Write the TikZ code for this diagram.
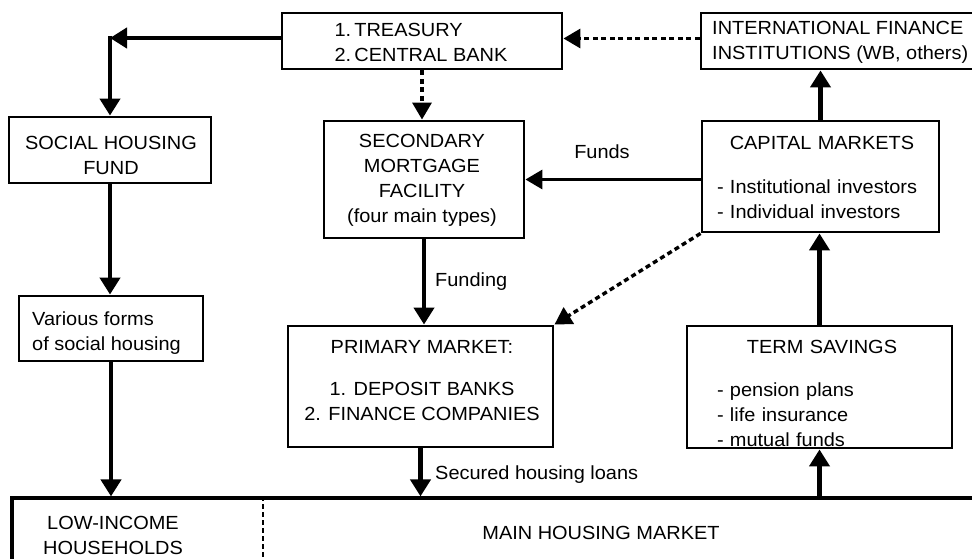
\documentclass[tikz,border=0pt]{standalone}
\usepackage{fontspec}
\setmainfont{Liberation Sans}[FakeStretch=1.05]
\usetikzlibrary{arrows.meta}
\begin{document}
\begin{tikzpicture}[x=1pt,y=-1pt,
  box/.style={draw, line width=2.9pt, rectangle, inner sep=0pt},
  txt/.style={inner sep=0pt, font=\fontsize{19}{25}\selectfont},
  arr/.style={line width=4.2pt, -{Triangle[length=17pt,width=20pt]}},
  thinarr/.style={line width=3.4pt, -{Triangle[length=17pt,width=19pt]}},
  dasharr/.style={line width=3.4pt, dash pattern=on 5pt off 3.5pt, -{Triangle[length=17pt,width=19pt]}},
]
\useasboundingbox (0,0) rectangle (972,559);
\clip (0,0) rectangle (972,559);

% boxes
\node[box, minimum width=280pt, minimum height=56pt] (treasury) at (422,41) {};
\node[box, minimum width=299pt, minimum height=56pt] (ifi) at (850.5,41) {};
\node[box, minimum width=202pt, minimum height=66pt] (shf) at (110,150) {};
\node[box, minimum width=200pt, minimum height=117pt] (smf) at (424,179.5) {};
\node[box, minimum width=237pt, minimum height=111pt] (cm) at (820.5,176.5) {};
\node[box, minimum width=184pt, minimum height=65pt] (various) at (111,328.5) {};
\node[box, minimum width=265pt, minimum height=121pt] (pm) at (420.5,386.5) {};
\node[box, minimum width=265pt, minimum height=122pt] (ts) at (819.5,387) {};
\node[box, line width=3.2pt, minimum width=988pt, minimum height=122pt] (market) at (506,559) {};

% texts
\node[txt, align=left] (treasurytxt) at (421,42.5) {1.\,TREASURY\\2.\,CENTRAL BANK};
\node[txt, align=left, anchor=west] (ifitxt) at (712,42.5) {INTERNATIONAL FINANCE\\INSTITUTIONS (WB, others)};
\node[txt, align=center] (shftxt) at (111,155.5) {SOCIAL HOUSING\\FUND};
\node[txt, align=center] (smftxt) at (422,180.5) {SECONDARY\\MORTGAGE\\FACILITY\\(four main types)};
\node[txt, align=left, text width=210pt] (cmtxt) at (822,177)
  {\makebox[210pt][c]{CAPITAL MARKETS}\\[19pt]- Institutional investors\\- Individual investors};
\node[txt, align=left, anchor=west] (varioustxt) at (32,333) {Various forms\\of social housing};
\node[txt, align=center] (pmtxt) at (422,380.5) {PRIMARY MARKET:\\[17pt]1. DEPOSIT BANKS\\2. FINANCE COMPANIES};
\node[txt, align=left, text width=210pt] (tstxt) at (822,393)
  {\makebox[210pt][c]{TERM SAVINGS}\\[18pt]- pension plans\\- life insurance\\- mutual funds};
\node[txt, align=center] (lowtxt) at (113,535.5) {LOW-INCOME\\HOUSEHOLDS};
\node[txt] (maintxt) at (601,533) {MAIN HOUSING MARKET};
\node[txt] (fundslbl) at (602,152) {Funds};
\node[txt, anchor=west] (fundinglbl) at (435,282) {Funding};
\node[txt, anchor=west] (securedlbl) at (435,475) {Secured housing loans};

% connectors
\coordinate (corner) at (110,38);
\draw[arr] (corner -| treasury.west) -- (corner);
\draw[arr] ([yshift=2.1pt]corner) -- (shf.north);
\coordinate (toprow) at (0,38.5);
\draw[dasharr] (ifi.west |- toprow) -- (treasury.east |- toprow);
\draw[dasharr] (treasury.south) -- (treasury.south |- smf.north);
\draw[thinarr] (cm.west |- smf.east) -- (smf.east);
\draw[arr] (smf.south) -- (smf.south |- pm.north);
\draw[dasharr] (cm.south west) -- (pm.north east);
\draw[arr] (pm.south) -- (pm.south |- market.north);
\draw[arr] (shf.south) -- (shf.south |- various.north);
\draw[arr] (various.south) -- (various.south |- market.north);
\draw[arr] (market.north -| ts.south) -- (ts.south);
\draw[arr] (ts.north) -- (ts.north |- cm.south);
\draw[arr] (cm.north) -- (cm.north |- ifi.south);
\coordinate (divx) at (263,0);
\draw[line width=2.2pt, dash pattern=on 5pt off 3pt] (market.north -| divx) -- (divx |- market.south);
\end{tikzpicture}
\end{document}
